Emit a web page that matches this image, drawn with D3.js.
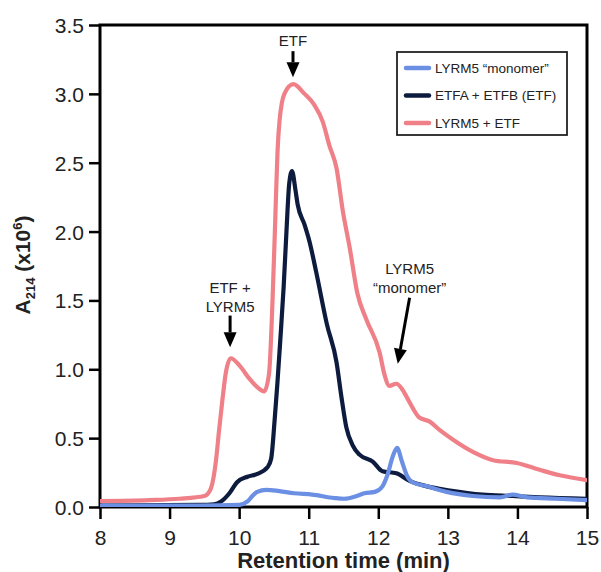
<!DOCTYPE html>
<html>
<head>
<meta charset="utf-8">
<script src="https://cdn.jsdelivr.net/npm/d3@7"></script>
<style>
  body { margin: 0; background: #fff; }
  text { font-family: "Liberation Sans", Arial, Helvetica, sans-serif; }
</style>
</head>
<body>
<svg id="chart" width="601" height="572"></svg>
<script>
// ---- data (retention time in min, A214 x10^6) ----
const xTicks = [8, 9, 10, 11, 12, 13, 14, 15];
const yTicks = [0, 0.5, 1.0, 1.5, 2.0, 2.5, 3.0, 3.5];

const seriesNames = ["LYRM5 \u201cmonomer\u201d", "ETFA + ETFB (ETF)", "LYRM5 + ETF"];
const seriesColors = ["#6b8fe3", "#0d1b3e", "#f08088"];

const monomerT = [8.00, 9.43, 10.00, 10.12, 10.19, 10.26, 10.39, 10.58, 10.79, 11.05, 11.37, 11.51, 11.69, 11.80, 11.95, 12.06, 12.13, 12.21, 12.27, 12.34, 12.41, 12.49, 12.70, 12.98, 13.36, 13.75, 13.93, 14.14, 14.57, 15.00];
const monomerV = [0.01, 0.01, 0.015, 0.04, 0.08, 0.11, 0.125, 0.115, 0.10, 0.09, 0.065, 0.06, 0.08, 0.10, 0.11, 0.15, 0.23, 0.37, 0.43, 0.33, 0.23, 0.18, 0.15, 0.11, 0.08, 0.07, 0.09, 0.07, 0.06, 0.05];

const etfT = [8.00, 9.43, 9.64, 9.74, 9.86, 9.97, 10.12, 10.26, 10.41, 10.46, 10.51, 10.55, 10.59, 10.64, 10.68, 10.72, 10.76, 10.81, 10.84, 10.94, 11.01, 11.11, 11.26, 11.40, 11.47, 11.54, 11.63, 11.73, 11.92, 12.06, 12.26, 12.45, 12.70, 13.03, 13.50, 13.93, 14.32, 15.00];
const etfV = [0.01, 0.015, 0.02, 0.04, 0.10, 0.18, 0.22, 0.24, 0.29, 0.35, 0.63, 0.90, 1.20, 1.60, 2.00, 2.35, 2.44, 2.30, 2.20, 2.05, 1.93, 1.70, 1.33, 1.05, 0.80, 0.58, 0.45, 0.38, 0.33, 0.26, 0.245, 0.19, 0.15, 0.12, 0.09, 0.08, 0.07, 0.06];

const complexT = [8.00, 8.71, 9.14, 9.50, 9.59, 9.67, 9.71, 9.76, 9.81, 9.88, 10.00, 10.15, 10.26, 10.36, 10.43, 10.48, 10.52, 10.55, 10.58, 10.65, 10.78, 10.94, 11.08, 11.20, 11.30, 11.40, 11.49, 11.59, 11.70, 11.83, 12.02, 12.09, 12.16, 12.26, 12.35, 12.45, 12.59, 12.74, 12.88, 13.07, 13.36, 13.65, 13.99, 14.32, 14.61, 15.00];
const complexV = [0.043, 0.05, 0.06, 0.08, 0.13, 0.35, 0.55, 0.78, 0.98, 1.08, 1.03, 0.93, 0.87, 0.84, 0.97, 1.50, 2.10, 2.56, 2.80, 3.00, 3.07, 3.00, 2.92, 2.80, 2.62, 2.46, 2.15, 1.88, 1.55, 1.36, 1.12, 0.96, 0.88, 0.895, 0.85, 0.76, 0.65, 0.62, 0.56, 0.49, 0.40, 0.34, 0.32, 0.27, 0.23, 0.195];

// annotations: label lines, text anchor (t, v), arrow tail (t, v) -> tip (t, v)
const annotLabels = [["ETF"], ["ETF +", "LYRM5"], ["LYRM5", "\u201cmonomer\u201d"]];
const annotTextPos = [[10.774, 3.35], [9.87, 1.553], [12.45, 1.69]];
const annotTail = [[10.774, 3.31], [9.87, 1.39], [12.45, 1.52]];
const annotTip = [[10.774, 3.12], [9.87, 1.16], [12.28, 1.04]];

// ---- layout ----
const svg = d3.select("#chart");
const margin = { left: 100, right: 14, top: 25, bottom: 65 };
const W = 601, H = 572;
const x = d3.scaleLinear().domain([8, 15]).range([margin.left, W - margin.right]);
const y = d3.scaleLinear().domain([0, 3.5]).range([H - margin.bottom, margin.top]);

svg.append("defs").append("clipPath").attr("id", "plotClip")
  .append("rect")
  .attr("x", x(8)).attr("y", y(3.5))
  .attr("width", x(15) - x(8)).attr("height", y(0) - y(3.5));

// axes
const xAxis = svg.append("g")
  .attr("transform", `translate(0,${y(0)})`)
  .call(d3.axisBottom(x).tickValues(xTicks).tickFormat(d3.format("d")).tickSize(12).tickPadding(6));
const yAxis = svg.append("g")
  .attr("transform", `translate(${x(8)},0)`)
  .call(d3.axisLeft(y).tickValues(yTicks).tickFormat(d3.format(".1f")).tickSize(11).tickPadding(6));

[xAxis, yAxis].forEach(g => {
  g.select(".domain").remove();
  g.selectAll(".tick line").attr("stroke", "#000").attr("stroke-width", 2.5);
  g.selectAll(".tick text").attr("fill", "#222").style("font-size", "21px")
    .style("font-family", "'Liberation Sans', Arial, sans-serif");
});
xAxis.selectAll(".tick text").attr("dy", null).attr("y", 38);
yAxis.selectAll(".tick text").attr("x", -16).attr("dy", "0.36em");

// frame
svg.append("rect")
  .attr("x", x(8)).attr("y", y(3.5))
  .attr("width", x(15) - x(8)).attr("height", y(0) - y(3.5))
  .attr("fill", "none").attr("stroke", "#000").attr("stroke-width", 3);

// lines
const line = d3.line().x(d => x(d[0])).y(d => y(d[1])).curve(d3.curveMonotoneX);
const seriesData = [
  d3.zip(monomerT, monomerV),
  d3.zip(etfT, etfV),
  d3.zip(complexT, complexV)
];
const plot = svg.append("g").attr("clip-path", "url(#plotClip)");
[2, 1, 0].forEach(i => {
  plot.append("path")
    .datum(seriesData[i])
    .attr("d", line)
    .attr("fill", "none")
    .attr("stroke", seriesColors[i])
    .attr("stroke-width", 4.2)
    .attr("stroke-linejoin", "round")
    .attr("stroke-linecap", "round");
});

// annotations
annotLabels.forEach((lines, i) => {
  const tx = x(annotTextPos[i][0]);
  const ty = y(annotTextPos[i][1]);
  const t = svg.append("text")
    .attr("x", tx).attr("y", ty)
    .attr("text-anchor", "middle")
    .attr("fill", "#222")
    .style("font-size", "15px");
  lines.forEach((s, j) => {
    t.append("tspan").attr("x", tx).attr("y", ty + j * 19).text(s);
  });
  // arrow
  const x1 = x(annotTail[i][0]), y1 = y(annotTail[i][1]);
  const x2 = x(annotTip[i][0]), y2 = y(annotTip[i][1]);
  const ang = Math.atan2(y2 - y1, x2 - x1);
  const headLen = 15, headW = 6.5;
  const bx = x2 - headLen * Math.cos(ang), by = y2 - headLen * Math.sin(ang);
  svg.append("line")
    .attr("x1", x1).attr("y1", y1).attr("x2", bx).attr("y2", by)
    .attr("stroke", "#000").attr("stroke-width", 3);
  const px = -Math.sin(ang), py = Math.cos(ang);
  svg.append("path")
    .attr("d", `M${x2},${y2} L${bx + px * headW},${by + py * headW} L${bx - px * headW},${by - py * headW} Z`)
    .attr("fill", "#000");
});

// legend
const lg = svg.append("g");
lg.append("rect")
  .attr("x", 397).attr("y", 52).attr("width", 170).attr("height", 83)
  .attr("fill", "#fff").attr("stroke", "#222").attr("stroke-width", 1.8);
seriesNames.forEach((name, i) => {
  const yy = 68 + i * 27.5;
  lg.append("line")
    .attr("x1", 406).attr("x2", 429).attr("y1", yy).attr("y2", yy)
    .attr("stroke", seriesColors[i]).attr("stroke-width", 4.5).attr("stroke-linecap", "round");
  lg.append("text")
    .attr("x", 435).attr("y", yy).attr("dy", "0.35em")
    .attr("fill", "#222").style("font-size", "13.5px")
    .text(name);
});

// axis titles
svg.append("text")
  .attr("x", (x(8) + x(15)) / 2).attr("y", 568)
  .attr("text-anchor", "middle")
  .attr("fill", "#222")
  .style("font-size", "22px").style("font-weight", "bold")
  .text("Retention time (min)");

const yl = svg.append("text")
  .attr("transform", `translate(30,265) rotate(-90)`)
  .attr("text-anchor", "middle")
  .attr("fill", "#222")
  .style("font-size", "21px").style("font-weight", "bold");
yl.append("tspan").text("A");
yl.append("tspan").attr("dy", "5").style("font-size", "13px").text("214");
yl.append("tspan").attr("dy", "-5").text(" (x10");
yl.append("tspan").attr("dy", "-8").style("font-size", "13px").text("6");
yl.append("tspan").attr("dy", "8").text(")");
</script>
</body>
</html>
